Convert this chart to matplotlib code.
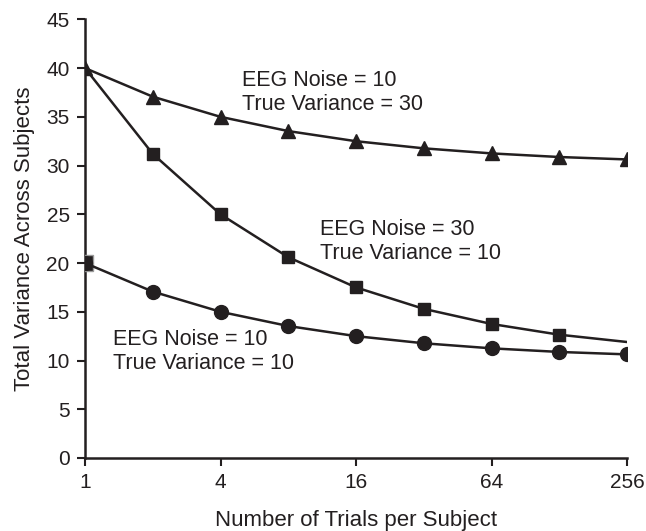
import matplotlib

matplotlib.use("Agg")
import matplotlib.pyplot as plt

plt.rcParams["font.family"] = ["Liberation Sans", "DejaVu Sans"]

trials = [1, 2, 4, 8, 16, 32, 64, 128, 256]
tick_labels = ["1", "4", "16", "64", "256"]

# EEG noise 10, true variance 30 (triangles)
tri_vals = [40, 37.07, 35, 33.54, 32.5, 31.77, 31.25, 30.88, 30.63]
# EEG noise 30, true variance 10 (squares; no marker on the last point)
sq_vals = [40, 31.2, 25, 20.6, 17.5, 15.3, 13.75, 12.65, 11.9]
# EEG noise 10, true variance 10 (circles)
circ_vals = [20, 17.07, 15, 13.54, 12.5, 11.77, 11.25, 10.88, 10.63]

fig = plt.figure(figsize=(6.46, 5.31), dpi=100)
ax = fig.add_axes([0.1316, 0.1375, 0.839, 0.826])

ink = "#231f20"
ax.plot(trials, sq_vals, color=ink, lw=1.8, marker="s", ms=9,
        markevery=list(range(1, 8)), zorder=3)
ax.plot(trials, tri_vals, color=ink, lw=1.8, marker="^", ms=10, zorder=3)
ax.plot([1], [20], linestyle="none", marker="s", ms=11, mfc=ink,
        mec="#9a9a9a", mew=1.0, zorder=4)
ax.plot(trials, circ_vals, color=ink, lw=1.8, marker="o", ms=10, zorder=5)

ax.set_xscale("log", base=2)
ax.set_xlim(1, 256)
ax.set_ylim(0, 45)
ax.set_xticks([1, 4, 16, 64, 256])
ax.set_xticklabels(tick_labels)
ax.minorticks_off()
ax.set_yticks(range(0, 46, 5))

for s in ["top", "right"]:
    ax.spines[s].set_visible(False)
for s in ["left", "bottom"]:
    ax.spines[s].set_linewidth(1.8)
    ax.spines[s].set_color(ink)
    ax.spines[s].set_zorder(2)
ax.tick_params(direction="out", length=6, width=1.5, colors=ink,
               labelsize=15, pad=5)

ax.set_xlabel("Number of Trials per Subject", fontsize=16, color=ink,
              labelpad=13)
ax.set_ylabel("Total Variance Across Subjects", fontsize=16, color=ink,
              labelpad=8)

txt = dict(fontsize=15.5, color=ink, va="center", ha="left", linespacing=1.2)
ax.text(5.0, 37.5, "EEG Noise = 10\nTrue Variance = 30", **txt)
ax.text(11.1, 22.2, "EEG Noise = 30\nTrue Variance = 10", **txt)
ax.text(1.33, 10.9, "EEG Noise = 10\nTrue Variance = 10", **txt)

fig.savefig("out.png", dpi=100)
